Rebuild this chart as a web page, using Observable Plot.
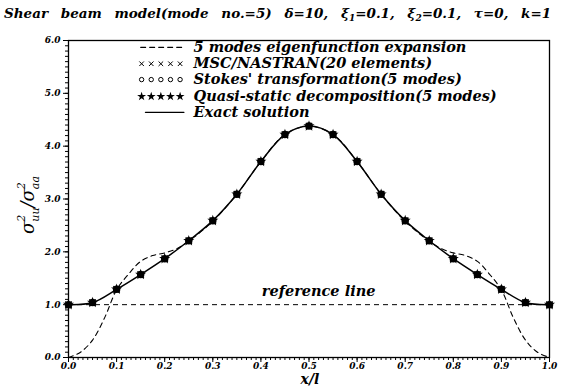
<!DOCTYPE html>
<html><head><meta charset="utf-8">
<script src="https://cdn.jsdelivr.net/npm/d3@7"></script>
<script src="https://cdn.jsdelivr.net/npm/@observablehq/plot@0.6"></script>
<style>body{margin:0;background:#fff} svg{display:block} svg text{font-family:"DejaVu Serif",serif !important;}</style>
</head><body><div id="chart"></div>
<script>
// Node positions x/l and values
const xPts = [0,0.05,0.1,0.15,0.2,0.25,0.3,0.35,0.4,0.45,0.5,0.55,0.6,0.65,0.7,0.75,0.8,0.85,0.9,0.95,1.0];
const exact = [1.0,1.04,1.29,1.57,1.87,2.21,2.59,3.09,3.71,4.22,4.38,4.22,3.71,3.09,2.59,2.21,1.87,1.57,1.29,1.04,1.0];
const nastran = exact.slice();
const stokes = exact.slice();
const quasi = exact.slice();
// 5 modes eigenfunction expansion (dashed)
const eigX = [0,0.025,0.05,0.075,0.1,0.125,0.15,0.175,0.2,0.225,0.25,0.3,0.35,0.4,0.45,0.5,0.55,0.6,0.65,0.7,0.75,0.775,0.8,0.825,0.85,0.875,0.9,0.925,0.95,0.975,1.0];
const eigY = [0.0,0.1,0.33,0.75,1.28,1.58,1.82,1.93,1.98,2.06,2.2,2.58,3.09,3.71,4.22,4.38,4.22,3.71,3.09,2.58,2.2,2.06,1.98,1.93,1.82,1.58,1.28,0.75,0.33,0.1,0.0];
const refValue = 1.0;
const yTicks = [0,1,2,3,4,5,6];
const xTicks = [0,0.1,0.2,0.3,0.4,0.5,0.6,0.7,0.8,0.9,1.0];
const legendLabels = ["5 modes eigenfunction expansion","MSC/NASTRAN(20 elements)","Stokes' transformation(5 modes)","Quasi-static decomposition(5 modes)","Exact solution"];
const legendY = [5.87,5.56,5.26,4.94,4.64];
const legendSymX = [0.152,0.172,0.192,0.212,0.232];

const font = "DejaVu Serif";
const pts = xPts.map((x,i)=>({x, exact:exact[i], nastran:nastran[i], stokes:stokes[i], quasi:quasi[i]}));
const eig = eigX.map((x,i)=>({x, y:eigY[i]}));
const minorX = d3.range(0,101).map(i=>i/100);
const minorY = d3.range(0,61).map(i=>i/10);

const legSym = [];
legendSymX.forEach(x=>{ legSym.push({x,y:legendY[1],s:"times"}); legSym.push({x,y:legendY[2],s:"circle"}); legSym.push({x,y:legendY[3],s:"star"}); });
const tf = {fontFamily:font, fontStyle:"italic", fontWeight:"bold"};

const plot = Plot.plot({
  width:564, height:387, marginTop:40, marginBottom:30, marginLeft:68, marginRight:15,
  style:{fontFamily:font, fontStyle:"italic", fontWeight:"bold", background:"#fff", color:"#000"},
  x:{domain:[0,1]}, y:{domain:[0,6]},
  marks:[
    Plot.axisX({ticks:minorX, tickSize:3, tickFormat:()=>"", label:null}),
    Plot.axisX({ticks:xTicks, tickSize:5, tickPadding:0, tickFormat:d=>d.toFixed(1), fontSize:9, label:null, ...tf}),
    Plot.axisY({ticks:minorY, tickSize:3, tickFormat:()=>"", label:null}),
    Plot.axisY({ticks:yTicks, tickSize:5, tickPadding:3, tickFormat:d=>d.toFixed(1), fontSize:9, label:null, ...tf}),
    Plot.frame({stroke:"#000", strokeWidth:1.3}),
    Plot.ruleY([refValue], {stroke:"#000", strokeWidth:1, strokeDasharray:"5,4"}),
    Plot.text(["reference line"], {x:0.52, y:1.25, text:d=>d, fontSize:14.5, fill:"#000", ...tf}),
    Plot.line(eig, {x:"x", y:"y", curve:"catmull-rom", stroke:"#000", strokeWidth:1.1, strokeDasharray:"5,4"}),
    Plot.line(pts, {x:"x", y:"exact", curve:"catmull-rom", stroke:"#000", strokeWidth:1.5}),
    Plot.dot(pts, {x:"x", y:"stokes", symbol:"circle", r:3, fill:"#000", stroke:"#000"}),
    Plot.dot(pts, {x:"x", y:"nastran", symbol:"times", r:3, stroke:"#000", strokeWidth:1.3}),
    Plot.dot(pts, {x:"x", y:"quasi", symbol:"star", r:3.5, fill:"#000"}),
    // legend
    Plot.line([{x:0.15,y:legendY[0]},{x:0.24,y:legendY[0]}], {x:"x", y:"y", stroke:"#000", strokeWidth:1.1, strokeDasharray:"5,4"}),
    Plot.line([{x:0.16,y:legendY[4]},{x:0.24,y:legendY[4]}], {x:"x", y:"y", stroke:"#000", strokeWidth:1.3}),
    Plot.dot(legSym.filter(d=>d.s==="times"), {x:"x", y:"y", symbol:"times", r:2.2, stroke:"#000", strokeWidth:1}),
    Plot.dot(legSym.filter(d=>d.s==="circle"), {x:"x", y:"y", symbol:"circle", r:2.2, stroke:"#000", strokeWidth:1, fill:"none"}),
    Plot.dot(legSym.filter(d=>d.s==="star"), {x:"x", y:"y", symbol:"star", r:2.8, fill:"#000"}),
    Plot.text(legendLabels, {x:0.26, y:(d,i)=>legendY[i], text:d=>d, textAnchor:"start", fontSize:14.5, fill:"#000", ...tf})
  ]
});
document.getElementById("chart").appendChild(plot);

const svg = d3.select(plot);
// Title
const t = svg.append("text").attr("x",4).attr("y",18).attr("text-anchor","start")
  .style("font-size","13.5px").style("word-spacing","8px").style("font-style","italic").style("font-weight","bold").attr("fill","#000");
const parts = [["Shear beam model(mode no.=5) δ=10, ξ",0],["1",1],["=0.1, ξ",0],["2",1],["=0.1, τ=0, k=1",0]];
parts.forEach(([s,sub])=>{ t.append("tspan").text(s).attr("dy", sub?3:(s.startsWith("=")?-3:0)).style("font-size", sub?"9px":"13.5px"); });
// x label
svg.append("text").attr("x",310).attr("y",384).attr("text-anchor","middle").style("font-size","14px")
  .style("font-style","italic").style("font-weight","bold").text("x/l");
// y label
const yl = svg.append("text").attr("transform","translate(34,205) rotate(-90)").attr("text-anchor","middle")
  .style("font-size","18px").style("font-style","italic").style("font-weight","normal");
yl.append("tspan").text("σ");
yl.append("tspan").text("2").style("font-size","11px").attr("dy",-9);
yl.append("tspan").text("uu").style("font-size","11px").attr("dx",-7).attr("dy",14);
yl.append("tspan").text("/").attr("dy",-5);
yl.append("tspan").text("σ");
yl.append("tspan").text("2").style("font-size","11px").attr("dy",-9);
yl.append("tspan").text("aa").style("font-size","11px").attr("dx",-7).attr("dy",14);
</script></body></html>
